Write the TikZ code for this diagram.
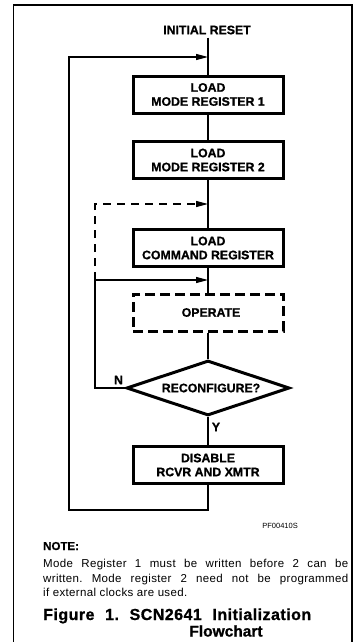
\documentclass[tikz,border=0pt]{standalone}
\usepackage{fontspec}
\setmainfont{Liberation Sans}
\usetikzlibrary{arrows.meta,shapes.geometric}
\frenchspacing
\begin{document}
\begin{tikzpicture}[x=1pt,y=-1pt,
  conn/.style={line width=1.2pt},
  arr/.style={conn,-{Triangle[length=12pt,width=6pt]}},
  dconn/.style={conn,dash pattern=on 8pt off 6pt},
  boxfont/.style={font=\bfseries\fontsize{12.3}{14}\selectfont\addfontfeatures{FakeBold=1}},
  box/.style={boxfont,draw,line width=3pt,minimum width=150pt,minimum height=37pt,inner sep=0pt,align=center},
  dbox/.style={box,dash pattern=on 10pt off 5pt},
  decision/.style={boxfont,diamond,draw,line width=3pt,aspect=2.96,minimum width=163pt,minimum height=55pt,inner sep=0pt},
  lbl/.style={boxfont,inner sep=0pt},
  notefont/.style={font=\frenchspacing\fontsize{11.5}{13}\selectfont\addfontfeatures{LetterSpace=3},inner sep=0pt,anchor=base west},
  capfont/.style={font=\frenchspacing\bfseries\fontsize{16}{18}\selectfont\addfontfeatures{LetterSpace=3,FakeBold=1},inner sep=0pt}
]
\useasboundingbox (0,0) rectangle (353,642);
% frame
\draw[line width=1.5pt] (13.5,642) -- (13.5,5) -- (352,5) -- (352,642);

% nodes
\node[boxfont,inner sep=3pt] (reset) at (207,30) {INITIAL RESET};
\node[box] (b1) at (208,94.5) {LOAD\\MODE REGISTER 1};
\node[box] (b2) at (208,160) {LOAD\\MODE REGISTER 2};
\node[box] (b3) at (208,248) {LOAD\\COMMAND REGISTER};
\node[dbox] (op) at (208,312.5) {\hspace*{6pt}OPERATE};
\node[decision] (dec) at (208,388) {\hspace*{6pt}RECONFIGURE?};
\node[box] (b5) at (208,465) {DISABLE\\RCVR AND XMTR};
\node[lbl] (nlbl) at (118.5,380) {N};
\node[lbl] (ylbl) at (216,427) {Y};

% coordinates
\coordinate (top) at (208,57);
\coordinate (cmd) at (208,204);
\coordinate (opin) at (208,280);
\coordinate (nc) at (95,280);
\coordinate (bot) at (208,510);

% connectors
\draw[conn] (reset.south -| b1.north) -- (b1.north);
\draw[conn] (b1.south) -- (b2.north);
\draw[conn] (b2.south) -- (b3.north);
\draw[conn] (b3.south) -- (op.north);
\draw[conn] (op.south) -- (dec.north);
\draw[conn] (dec.south) -- (b5.north);
\draw[arr] (b5.south) -- (bot) -- (69,510) -- (69,57) -- (top);
\draw[arr] (dec.west) -- (95,388) -- (nc) -- (opin);
\draw[dconn,-{Triangle[length=12pt,width=6pt]}] (nc) -- (95,204) -- (cmd);

% texts
\node[font=\fontsize{7.5}{9}\selectfont,inner sep=0pt,anchor=base east] (pf) at (298,528.5) {PF00410S};
\node[notefont,font=\bfseries\fontsize{11.5}{13}\selectfont\addfontfeatures{FakeBold=1}] (note) at (43,550) {NOTE:};
\node[notefont] (n1) at (43,567) {\makebox[305pt][s]{Mode Register 1 must be written before 2 can be}};
\node[notefont] (n2) at (43,582) {\makebox[305pt][s]{written. Mode register 2 need not be programmed}};
\node[notefont] (n3) at (43,596) {if external clocks are used.};
\node[capfont,anchor=base west] (cap1) at (43,620) {\makebox[268pt][s]{Figure 1. SCN2641 Initialization}};
\node[capfont,anchor=base,font=\bfseries\fontsize{15.5}{17}\selectfont\addfontfeatures{FakeBold=1}] (cap2) at (226,636.5) {Flowchart};
\end{tikzpicture}
\end{document}
